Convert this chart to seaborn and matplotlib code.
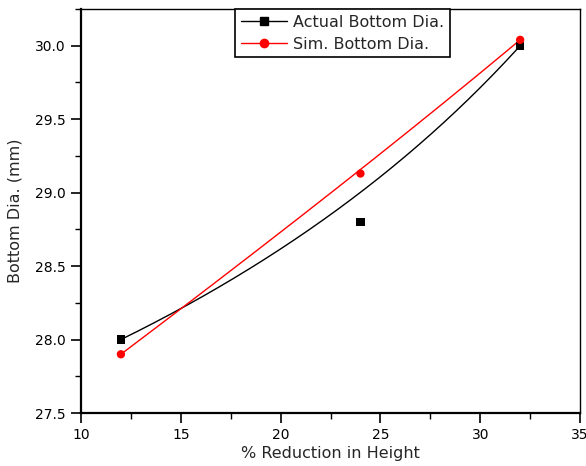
import numpy as np
import pandas as pd
import matplotlib
matplotlib.use("Agg")
import matplotlib.pyplot as plt
from matplotlib.lines import Line2D
from matplotlib.ticker import MultipleLocator, FormatStrFormatter
import seaborn as sns

# Measured and simulated bottom diameter vs. % reduction in height
reduction = [12, 24, 32]
actual_dia = [28.0, 28.8, 30.0]
sim_dia = [27.9, 29.13, 30.04]
series_names = ["Actual Bottom Dia.", "Sim. Bottom Dia."]
series_colors = ["black", "red"]
series_markers = ["s", "o"]


def bspline(xs, ys, n=200):
    """Quadratic B-spline (Bezier) through the three control points."""
    t = np.linspace(0, 1, n)
    b0, b1, b2 = (1 - t) ** 2, 2 * t * (1 - t), t ** 2
    x = b0 * xs[0] + b1 * xs[1] + b2 * xs[2]
    y = b0 * ys[0] + b1 * ys[1] + b2 * ys[2]
    return x, y


sns.set_theme(style="white")
plt.rcParams["font.family"] = ["DejaVu Sans"]

fig = plt.figure(figsize=(5.86, 4.66), dpi=100)
ax = fig.add_axes([0.1382, 0.1137, 0.8516, 0.867])

points = pd.DataFrame({
    "x": reduction * 2,
    "y": actual_dia + sim_dia,
    "series": [series_names[0]] * 3 + [series_names[1]] * 3,
})

curves = []
for name, ys in zip(series_names, [actual_dia, sim_dia]):
    cx, cy = bspline(reduction, ys)
    curves.append(pd.DataFrame({"x": cx, "y": cy, "series": name}))
curves = pd.concat(curves, ignore_index=True)

palette = dict(zip(series_names, series_colors))
sns.lineplot(data=curves, x="x", y="y", hue="series", palette=palette,
             sort=False, estimator=None, linewidth=1.0, legend=False, ax=ax)
sns.scatterplot(data=points, x="x", y="y", hue="series", style="series",
                palette=palette,
                markers=dict(zip(series_names, series_markers)),
                s=36, linewidth=0, legend=False, ax=ax, zorder=3)

ax.set_xlim(10, 35)
ax.set_ylim(27.5, 30.25)
ax.xaxis.set_major_locator(MultipleLocator(5))
ax.xaxis.set_minor_locator(MultipleLocator(2.5))
ax.yaxis.set_major_locator(MultipleLocator(0.5))
ax.yaxis.set_minor_locator(MultipleLocator(0.25))
ax.yaxis.set_major_formatter(FormatStrFormatter("%.1f"))

for side in ["left", "bottom", "top", "right"]:
    ax.spines[side].set_color("black")
ax.spines["left"].set_linewidth(1.6)
ax.spines["bottom"].set_linewidth(1.6)
ax.spines["top"].set_linewidth(1.0)
ax.spines["right"].set_linewidth(1.0)

ax.tick_params(which="major", direction="out", length=7, width=1.2,
               colors="black", labelsize=10, left=True, bottom=True, pad=4)
ax.tick_params(which="minor", direction="out", length=4, width=1.0,
               colors="black", left=True, bottom=True)

ax.set_xlabel("% Reduction in Height", fontsize=11.5, labelpad=3)
ax.set_ylabel("Bottom Dia. (mm)", fontsize=11.5, labelpad=9)

handles = [
    Line2D([], [], color=c, marker=m, markersize=6, linewidth=1.0)
    for c, m in zip(series_colors, series_markers)
]
leg = ax.legend(handles, series_names, loc="upper left",
                bbox_to_anchor=(0.309, 1.0), fontsize=11.5, frameon=True,
                fancybox=False, edgecolor="black", framealpha=1,
                handlelength=2.9, handletextpad=0.4, borderpad=0.35,
                labelspacing=0.45, borderaxespad=0)
leg.get_frame().set_linewidth(1.2)

fig.savefig("out.png", dpi=100)
